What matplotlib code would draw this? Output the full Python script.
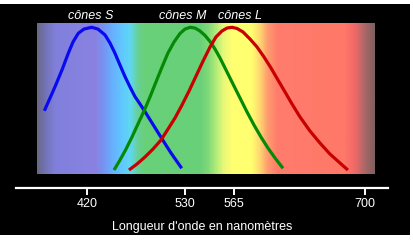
import numpy as np
import matplotlib
matplotlib.use("Agg")
import matplotlib.pyplot as plt
from matplotlib.colors import LinearSegmentedColormap
from matplotlib.patches import Rectangle
from matplotlib.transforms import blended_transform_factory

plt.rcParams['font.family'] = ['Liberation Sans', 'DejaVu Sans']

# ---------------- data ----------------
tick_nm = [420, 530, 565, 700]
tick_labels = ['420', '530', '565', '700']

s_nm = [372.1, 378.5, 384.1, 391.9, 399.0, 404.3, 410.2, 416.6, 425.3, 432.3, 440.2, 445.8,
        451.4, 457.0, 462.7, 468.3, 473.9, 479.5, 485.1, 493.0, 503.8, 514.3, 526.3]
s_val = [0.431, 0.518, 0.595, 0.709, 0.823, 0.900, 0.959, 0.988, 1.000, 0.988, 0.948, 0.893,
         0.823, 0.743, 0.663, 0.593, 0.527, 0.477, 0.425, 0.348, 0.243, 0.143, 0.039]

m_nm = [450.3, 457.0, 463.8, 470.5, 477.2, 484.0, 490.7, 497.4, 504.2, 510.9, 517.7, 524.4,
        530.0, 533.6, 537.1, 540.7, 544.3, 547.9, 551.4, 555.0, 559.3, 564.3, 571.2, 578.4,
        585.6, 592.8, 600.0, 607.3, 615.5]
m_val = [0.027, 0.095, 0.170, 0.252, 0.341, 0.429, 0.525, 0.627, 0.729, 0.825, 0.900, 0.958,
         0.988, 1.000, 0.995, 0.975, 0.944, 0.903, 0.852, 0.791, 0.709, 0.613, 0.518, 0.423,
         0.334, 0.252, 0.177, 0.109, 0.039]

l_nm = [467.1, 476.1, 485.1, 494.1, 503.1, 511.0, 518.8, 526.6, 532.9, 537.9, 542.9, 547.9,
        552.1, 556.4, 560.0, 563.6, 568.1, 574.3, 581.5, 588.7, 595.9, 603.1, 610.3, 617.6,
        624.8, 633.0, 643.3, 653.6, 663.9, 674.2, 682.4]
l_val = [0.027, 0.068, 0.116, 0.170, 0.232, 0.307, 0.382, 0.470, 0.566, 0.668, 0.770, 0.866,
         0.934, 0.975, 0.995, 1.000, 0.992, 0.968, 0.920, 0.866, 0.798, 0.723, 0.641, 0.559,
         0.477, 0.389, 0.293, 0.211, 0.136, 0.075, 0.027]

cone_labels = ['cônes S', 'cônes M', 'cônes L']
cone_label_nm = [424, 527, 571]

# ------------- non-linear (schematic) wavelength scale -------------
W, H = 413, 243
_pos = np.array([87.0, 185.0, 234.0, 365.0])
_nm = np.array(tick_nm, float)
_sl_lo = (_pos[1] - _pos[0]) / (_nm[1] - _nm[0])
_sl_hi = (_pos[3] - _pos[2]) / (_nm[3] - _nm[2])


def fwd(x):
    x = np.asarray(x, float)
    return np.where(x < _nm[0], _pos[0] + (x - _nm[0]) * _sl_lo,
                    np.where(x > _nm[-1], _pos[-1] + (x - _nm[-1]) * _sl_hi,
                             np.interp(x, _nm, _pos)))


def inv(p):
    p = np.asarray(p, float)
    return np.where(p < _pos[0], _nm[0] + (p - _pos[0]) / _sl_lo,
                    np.where(p > _pos[-1], _nm[-1] + (p - _pos[-1]) / _sl_hi,
                             np.interp(p, _pos, _nm)))


fig = plt.figure(figsize=(W / 100, H / 100), dpi=100, facecolor='white')
bg = Rectangle((0, 8 / H), 410 / W, (H - 4 - 8) / H, transform=fig.transFigure,
               facecolor='black', edgecolor='none', zorder=-10)
fig.add_artist(bg)

# ------------- spectrum panel -------------
L0, R0, T0, B0 = 37, 375, 23, 174
ax = fig.add_axes([L0 / W, (H - B0) / H, (R0 - L0) / W, (B0 - T0) / H])
ax.set_xscale('function', functions=(fwd, inv))

stops = [(0.0, '#6a6888'), (0.024, '#7474b8'), (0.053, '#8080dc'), (0.172, '#8a82e2'),
         (0.192, '#7890f0'), (0.222, '#68b0ff'), (0.251, '#60c8ff'), (0.275, '#60d8f0'),
         (0.299, '#68d090'), (0.320, '#68d078'), (0.482, '#68d078'), (0.506, '#80d878'),
         (0.530, '#b0ec78'), (0.553, '#e8f878'), (0.577, '#ffff70'), (0.636, '#ffff70'),
         (0.660, '#ffd870'), (0.683, '#ff9c70'), (0.713, '#ff7c6c'), (0.911, '#ff7868'),
         (0.944, '#f06868'), (0.970, '#b06868'), (1.0, '#806060')]
cmap = LinearSegmentedColormap.from_list('spec', stops)
ax.imshow(np.linspace(0, 1, 600)[None, :], cmap=cmap, aspect='auto',
          extent=[0, 1, 0, 1], transform=ax.transAxes, zorder=0, interpolation='bilinear')

kw = dict(lw=2.3, solid_capstyle='butt', solid_joinstyle='round', zorder=3)
ax.plot(s_nm, s_val, color='#0a0af0', **kw)
ax.plot(m_nm, m_val, color='#058a05', **kw)
ax.plot(l_nm, l_val, color='#c80000', **kw)

ax.set_xlim(float(inv(L0)), float(inv(R0)))
ax.set_ylim(0, (B0 - T0) / 146.7)
ax.axis('off')

tr = blended_transform_factory(ax.transData, ax.transAxes)
for lab, x in zip(cone_labels, cone_label_nm):
    ax.text(x, 1.049, lab, transform=tr, ha='center', va='center', color='white',
            fontsize=9, style='italic', clip_on=False)

# ------------- wavelength axis -------------
ax2 = fig.add_axes([16 / W, (H - 188) / H, (388 - 16) / W, 0.0001])
ax2.set_xscale('function', functions=(fwd, inv))
ax2.set_xlim(float(inv(16)), float(inv(388)))
ax2.set_facecolor('none')
for sp in ['top', 'left', 'right']:
    ax2.spines[sp].set_visible(False)
ax2.spines['bottom'].set_color('white')
ax2.spines['bottom'].set_linewidth(1.6)
ax2.set_yticks([])
ax2.set_xticks(tick_nm)
ax2.set_xticklabels(tick_labels)
ax2.xaxis.set_minor_locator(matplotlib.ticker.NullLocator())
ax2.tick_params(axis='x', direction='out', length=5, width=1.4, color='white',
                labelcolor='white', labelsize=9, pad=2.5)
ax2.set_xlabel("Longueur d'onde en nanomètres", color='white', fontsize=9, labelpad=7.5)

fig.savefig('out.png', dpi=100, facecolor='white')
